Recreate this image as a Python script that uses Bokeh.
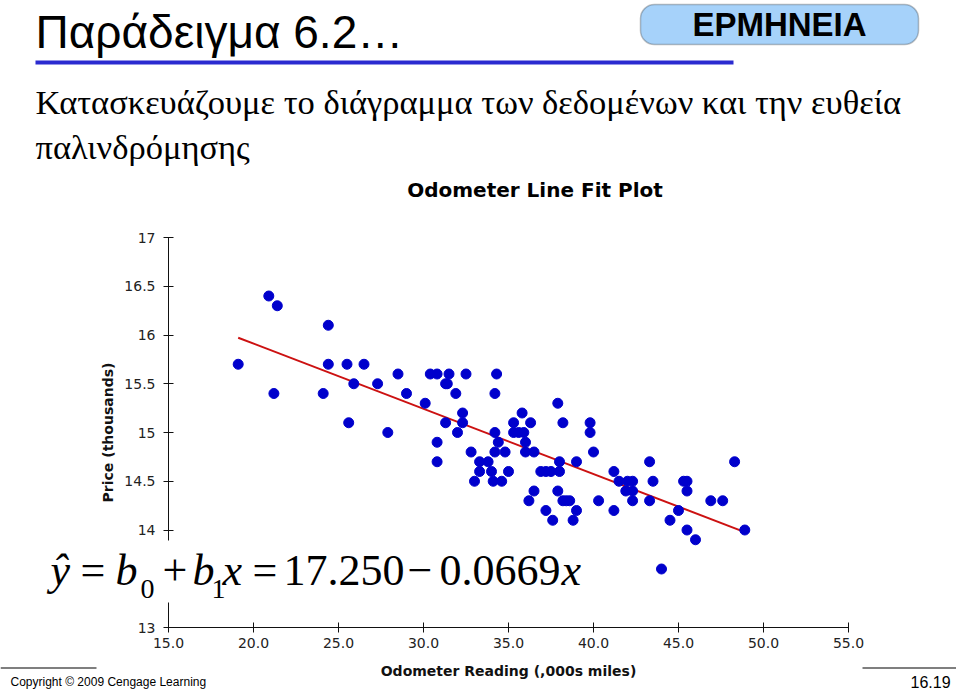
from bokeh.plotting import figure
from bokeh.models import Range1d, FixedTicker, Label, BoxAnnotation, NumeralTickFormatter, LinearAxis
from bokeh.embed import file_html
from bokeh.resources import INLINE

# ---------------- data ----------------
odometer = [19.1, 20.9, 21.4, 21.2, 24.4, 24.4, 24.1, 25.5, 25.6, 25.9,
            26.5, 27.3, 27.9, 28.5, 29.0, 30.1, 30.4, 30.8, 31.5, 32.5,
            31.3, 31.4, 31.9, 32.3, 31.3, 32.3, 32.0, 30.8, 30.8, 34.3,
            34.2, 35.8, 35.3, 36.3, 34.2, 35.3, 35.6, 35.9, 34.4, 36.0,
            32.8, 34.2, 34.8, 36.0, 33.3, 33.8, 33.3, 34.0, 35.0, 33.0,
            34.1, 34.6, 36.2, 37.9, 38.2, 39.8, 39.8, 36.5, 40.0, 38.0,
            39.0, 43.3, 36.9, 37.2, 37.5, 38.0, 41.2, 41.5, 42.0, 42.3,
            43.5, 36.5, 37.9, 41.9, 42.3, 38.2, 38.4, 38.6, 40.3, 42.3,
            43.3, 37.2, 39.0, 41.2, 37.6, 38.8, 48.3, 45.3, 45.5, 45.5,
            46.9, 47.6, 45.0, 44.5, 45.5, 48.9, 46.0, 44.0]
price = [15.7, 16.4, 16.3, 15.4, 16.1, 15.7, 15.4, 15.7, 15.1, 15.5,
         15.7, 15.5, 15.0, 15.6, 15.4, 15.3, 15.6, 15.6, 15.6, 15.6,
         15.5, 15.5, 15.4, 15.2, 15.1, 15.1, 15.0, 14.9, 14.7, 15.6,
         15.4, 15.2, 15.1, 15.1, 15.0, 15.0, 15.0, 15.0, 14.9, 14.9,
         14.8, 14.8, 14.8, 14.8, 14.7, 14.7, 14.6, 14.6, 14.6, 14.5,
         14.5, 14.5, 14.3, 15.3, 15.1, 15.1, 15.0, 14.8, 14.8, 14.7,
         14.7, 14.7, 14.6, 14.6, 14.6, 14.6, 14.6, 14.5, 14.5, 14.5,
         14.5, 14.4, 14.4, 14.4, 14.4, 14.3, 14.3, 14.3, 14.3, 14.3,
         14.3, 14.2, 14.2, 14.2, 14.1, 14.1, 14.7, 14.5, 14.5, 14.4,
         14.3, 14.3, 14.2, 14.1, 14.0, 14.0, 13.9, 13.6]
b0 = 17.250
b1 = -0.0669
x_ticks = [15, 20, 25, 30, 35, 40, 45, 50, 55]
y_ticks = [13, 13.5, 14, 14.5, 15, 15.5, 16, 16.5, 17]

slide_title = "Παράδειγμα 6.2…"
badge_text = "ΕΡΜΗΝΕΙΑ"
subtitle_1 = "Κατασκευάζουμε το διάγραμμα των δεδομένων και την ευθεία"
subtitle_2 = "παλινδρόμησης"
chart_title = "Odometer Line Fit  Plot"
x_title = "Odometer Reading (,000s miles)"
y_title = "Price (thousands)"
copyright_text = "Copyright © 2009 Cengage Learning"
page_no = "16.19"

# ---------------- layout geometry (pixels) ----------------
W, H = 956, 690
X_LO, X_HI = 15, 55          # axis extent
Y_LO, Y_HI = 13, 17
PX_L, PX_R = 168, 848        # pixel position of X_LO / X_HI
PY_B, PY_T = 627, 237        # pixel position of Y_LO / Y_HI
sx = (PX_R - PX_L) / (X_HI - X_LO)
sy = (PY_B - PY_T) / (Y_HI - Y_LO)
x_range = Range1d(X_LO - PX_L / sx, X_LO + (W - PX_L) / sx)
y_range = Range1d(Y_LO - (H - PY_B) / sy, Y_LO + PY_B / sy)

p = figure(width=W, height=H, output_backend="svg", toolbar_location=None,
           x_range=x_range, y_range=y_range,
           x_axis_location=None, y_axis_location=None,
           min_border=0)
p.outline_line_color = None
p.grid.visible = False
p.background_fill_color = "white"
p.border_fill_color = "white"

xaxis = LinearAxis(fixed_location=Y_LO, bounds=(X_LO, X_HI))
yaxis = LinearAxis(fixed_location=X_LO, bounds=(Y_LO, Y_HI))
p.add_layout(xaxis, "below")
p.add_layout(yaxis, "left")

for ax in (xaxis, yaxis):
    ax.axis_line_color = "#111111"
    ax.axis_line_width = 1
    ax.major_tick_line_color = "#111111"
    ax.major_tick_in = 5
    ax.major_tick_out = 5
    ax.minor_tick_line_color = None
    ax.major_label_text_font = "DejaVu Sans"
    ax.major_label_text_font_size = "14px"
    ax.major_label_text_color = "#222222"
    ax.axis_label_text_font = "DejaVu Sans"
    ax.axis_label_text_font_size = "14px"
    ax.axis_label_text_font_style = "bold"
    ax.axis_label_text_color = "#111111"

xaxis.ticker = FixedTicker(ticks=x_ticks)
xaxis.formatter = NumeralTickFormatter(format="0.0")
xaxis.axis_label = x_title
xaxis.axis_label_standoff = 12
yaxis.ticker = FixedTicker(ticks=y_ticks)
yaxis.formatter = NumeralTickFormatter(format="0.[0]")
yaxis.major_label_standoff = 8
yaxis.axis_label = y_title
yaxis.axis_label_standoff = 5

# regression line across data range
xmin, xmax = min(odometer), max(odometer)
p.line([xmin, xmax], [b0 + b1 * xmin, b0 + b1 * xmax], line_color="#cc1111", line_width=2)
p.scatter(odometer, price, size=10, fill_color="#0000cc", line_color="#0000cc")

# ---------------- page annotations (screen px from top-left) ----------------


def box(l, t, r, b, fill, line=None, lw=1, radius=0):
    p.add_layout(BoxAnnotation(left=l, right=r, top=H - t, bottom=H - b,
                               left_units="screen", right_units="screen",
                               top_units="screen", bottom_units="screen",
                               fill_color=fill, fill_alpha=1.0,
                               line_color=line, line_width=lw, border_radius=radius))


def lab(text, px, py, size, font="Liberation Serif", style="normal", color="black",
        align="left"):
    # py is the vertical middle of the text
    p.add_layout(Label(x=px, y=H - py, x_units="screen", y_units="screen",
                       text=text, text_font=font, text_font_size=f"{size}px",
                       text_font_style=style, text_color=color,
                       text_align=align, text_baseline="middle"))


# slide title + underline
lab(slide_title, 35, 31, 46, font="Liberation Sans")
box(35, 60, 733, 64, "#2b2bd0")

# badge
box(640, 4, 918, 44, "#a6d2fa", line="#333333", lw=1.5, radius=14)
lab(badge_text, 779, 24, 33, font="Liberation Sans", style="bold", align="center")

# subtitle
lab(subtitle_1, 35, 101, 34.5)
lab(subtitle_2, 35, 146, 34.5)

# chart title
lab(chart_title, 538, 189, 20, font="DejaVu Sans", style="bold", align="center")

# equation (white backing covers axis segment)
box(40, 540, 600, 602, "white")
EQ = 570
SUB = 588
lab("ŷ", 50, EQ, 44, style="italic")
lab("=", 80, EQ, 44)
lab("b", 115, EQ, 44, style="italic")
lab("0", 140, SUB, 28)
lab("+", 162, EQ, 44)
lab("b", 192, EQ, 44, style="italic")
lab("1", 211, SUB, 28)
lab("x", 222, EQ, 44, style="italic")
lab("=", 252, EQ, 44)
lab("17.250", 283, EQ, 44)
lab("−", 407, EQ, 44)
lab("0.0669", 439, EQ, 44)
lab("x", 561, EQ, 44, style="italic")

# footer
box(0, 667, 96, 668, "black")
box(862, 667, W, 668, "black")
lab(copyright_text, 10, 681, 12, font="Liberation Sans")
lab(page_no, 910, 681, 16, font="Liberation Sans")

open("out.html", "w").write(file_html(p, INLINE))
